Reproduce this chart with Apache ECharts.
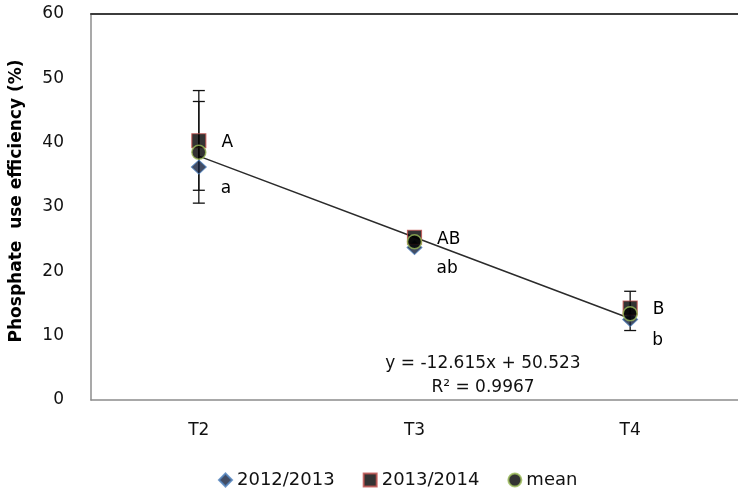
<!DOCTYPE html>
<html>
<head>
<meta charset="utf-8">
<script src="https://cdn.jsdelivr.net/npm/echarts@6/dist/echarts.min.js"></script>
<style>
  html, body { margin: 0; padding: 0; background: #fff; }
  #chart { width: 738px; height: 493px; }
</style>
</head>
<body>
<div id="chart"></div>
<script>
// Treatments on the x axis
const categories = ['T2', 'T3', 'T4'];

// Phosphate use efficiency (%) per season and the two-season mean
const season2012 = [36.2, 23.7, 12.5];
const season2013 = [40.3, 25.3, 14.3];
const meanValues = [38.5, 24.6, 13.4];

// Error bar ranges (low / high), null where no bar is drawn
const errLowA = [32.6, null, 10.8];
const errHighA = [48.1, null, 16.9];
const errLowB = [30.6, null, null];
const errHighB = [46.4, null, null];

// Significance letters
const lettersUpper = ['A', 'AB', 'B'];
const lettersLower = ['a', 'ab', 'b'];

// Linear trend of the mean
const slope = -12.615;
const intercept = 50.523;
const rSquared = 0.9967;

// Y axis range
const yMin = 0;
const yMax = 60;
const yStep = 10;

const FONT = 'DejaVu Sans';
const TEXT = '#111';

function errorData(lows, highs) {
  const out = [];
  lows.forEach((lo, i) => {
    if (lo != null && highs[i] != null) out.push([i, lo, highs[i]]);
  });
  return out;
}

function renderErrorBar(params, api) {
  const x = api.value(0);
  const lo = api.coord([x, api.value(1)]);
  const hi = api.coord([x, api.value(2)]);
  const cap = 6;
  const style = { stroke: '#111', lineWidth: 1.3 };
  return {
    type: 'group',
    children: [
      { type: 'line', shape: { x1: hi[0], y1: hi[1], x2: lo[0], y2: lo[1] }, style },
      { type: 'line', shape: { x1: hi[0] - cap, y1: hi[1], x2: hi[0] + cap, y2: hi[1] }, style },
      { type: 'line', shape: { x1: lo[0] - cap, y1: lo[1], x2: lo[0] + cap, y2: lo[1] }, style }
    ]
  };
}

const letterLabel = (letters, distance, offset) => ({
  show: true,
  position: 'right',
  distance: distance,
  offset: offset,
  formatter: p => letters[p.dataIndex],
  fontFamily: FONT,
  fontSize: 17,
  color: '#000',
  opacity: 1,
  textBorderWidth: 0
});

const chart = echarts.init(document.getElementById('chart'));

chart.setOption({
  backgroundColor: '#fff',
  animation: false,
  textStyle: { fontFamily: FONT },
  grid: { left: 89, top: 14, right: -5, bottom: 93, show: false },
  legend: {
    left: 213,
    top: 466,
    itemWidth: 13,
    itemHeight: 13,
    itemGap: 28,
    textStyle: { fontFamily: FONT, fontSize: 18, color: TEXT },
    data: [
      { name: '2012/2013', icon: 'diamond' },
      { name: '2013/2014', icon: 'rect' },
      { name: 'mean', icon: 'circle' }
    ]
  },
  xAxis: [
    {
      type: 'category',
      data: categories,
      position: 'bottom',
      axisLine: { lineStyle: { color: '#8c8c8c', width: 1.5 } },
      axisTick: { show: false },
      axisLabel: { fontFamily: FONT, fontSize: 17, color: TEXT, margin: 22 },
      splitLine: { show: false }
    },
    {
      type: 'category',
      data: categories,
      position: 'top',
      axisLine: { lineStyle: { color: '#3c3c3c', width: 2 } },
      axisTick: { show: false },
      axisLabel: { show: false },
      splitLine: { show: false }
    }
  ],
  yAxis: {
    type: 'value',
    min: yMin,
    max: yMax,
    interval: yStep,
    name: 'Phosphate  use efficiency (%)',
    nameLocation: 'middle',
    nameGap: 66,
    nameTextStyle: { fontFamily: FONT, fontSize: 17, fontWeight: 'bold', color: '#000', padding: [0, 0, 0, 12] },
    axisLine: { show: true, lineStyle: { color: '#8c8c8c', width: 1.5 } },
    axisTick: { show: false },
    axisLabel: { fontFamily: FONT, fontSize: 17, color: TEXT, margin: 27 },
    splitLine: { show: false }
  },
  graphic: [
    {
      type: 'text',
      x: 483,
      y: 352,
      style: {
        text: 'y = ' + slope + 'x + ' + intercept + '\nR² = ' + rSquared,
        textAlign: 'center',
        font: '17px "DejaVu Sans"',
        lineHeight: 24,
        fill: TEXT
      }
    }
  ],
  series: [
    {
      type: 'custom',
      name: 'errA',
      renderItem: renderErrorBar,
      data: errorData(errLowA, errHighA),
      z: 1,
      silent: true
    },
    {
      type: 'custom',
      name: 'errB',
      renderItem: renderErrorBar,
      data: errorData(errLowB, errHighB),
      z: 1,
      silent: true
    },
    {
      type: 'line',
      name: 'trend',
      data: categories.map((_, i) => slope * (i + 1) + intercept),
      symbol: 'none',
      lineStyle: { color: '#2b2b2b', width: 1.5 },
      z: 2,
      silent: true
    },
    {
      type: 'scatter',
      name: '2012/2013',
      data: season2012,
      symbol: 'diamond',
      symbolSize: [15, 14],
      itemStyle: { color: '#14213d', borderColor: '#4f81bd', borderWidth: 1 },
      label: letterLabel(lettersLower, 14, [0, 21]),
      z: 3
    },
    {
      type: 'scatter',
      name: '2013/2014',
      data: season2013,
      symbol: 'rect',
      symbolSize: 14,
      itemStyle: { color: '#000', borderColor: '#c0504d', borderWidth: 1.2 },
      label: letterLabel(lettersUpper, 15, [0, 2]),
      z: 4
    },
    {
      type: 'scatter',
      name: 'mean',
      data: meanValues,
      symbol: 'circle',
      symbolSize: 14,
      itemStyle: { color: '#000', borderColor: '#9bbb59', borderWidth: 1.5 },
      z: 5
    }
  ]
});
</script>
</body>
</html>
